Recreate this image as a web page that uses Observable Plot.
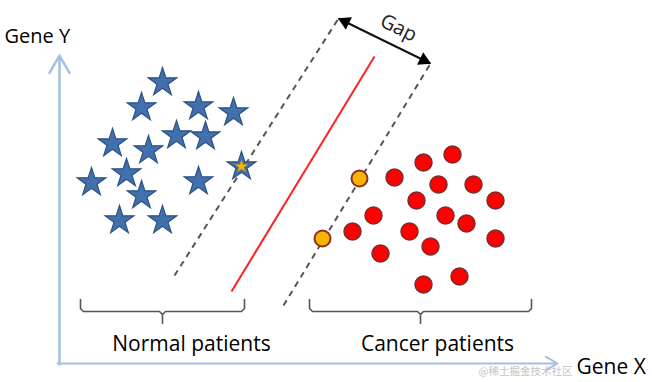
<!DOCTYPE html>
<html><head><meta charset="utf-8">
<script src="https://cdn.jsdelivr.net/npm/d3@7"></script>
<script src="https://cdn.jsdelivr.net/npm/@observablehq/plot@0.6"></script>
<style>html,body{margin:0;padding:0;background:#fff;overflow:hidden}</style>
</head><body><div id="chart"></div>
<script>
// Schematic coordinates (Gene X to the right, Gene Y measured downward on the canvas)
const normalX = [162,141,198,233,112,176,205,148,241, 91,126,198,141,119,162];
const normalY = [ 82,107,106,112,143,135,136,150,166,182,173,181,195,220,220];
const supportNormal = [{x:241, y:166}];

const cancerX = [394,423,452,438,473,416,495,373,352,409,445,466,495,430,380,459,423];
const cancerY = [177,162,154,184,184,200,200,215,231,231,215,223,238,246,253,276,284];
const supportCancerX = [359,322];
const supportCancerY = [178,238];

const hyperplane = {x1:231, y1:291, x2:374, y2:56};
const marginLines = [
  {x1:174, y1:275, x2:338, y2:18},
  {x1:283, y1:305, x2:430, y2:63}
];
const gapEnds = {x1:338, y1:18, x2:430, y2:63};
const axisY = {x1:59, y1:364, x2:59, y2:55};
const axisX = {x1:57, y1:363, x2:557, y2:363};

const groupLabels = ["Normal patients", "Cancer patients"];
const braceStart = [80, 309];
const braceEnd = [244, 531];
const braceTop = 299, braceLine = 311, braceTip = 323;
const labelY = 344;

const normal = normalX.map((x,i)=>({x, y:normalY[i]}));
const cancer = cancerX.map((x,i)=>({x, y:cancerY[i]}));
const supportCancer = supportCancerX.map((x,i)=>({x, y:supportCancerY[i]}));

// brace outlines built from the brace arrays
const braces = [];
groupLabels.forEach((g,i)=>{
  const a = braceStart[i], b = braceEnd[i], m = (a+b)/2;
  [[a,braceTop],[a,braceLine-3],[a+3,braceLine],[m-3,braceLine],[m,braceLine+3],[m,braceTip],
   [m,braceLine+3],[m+3,braceLine],[b-3,braceLine],[b,braceLine-3],[b,braceTop]]
   .forEach(([x,y])=>braces.push({g,x,y}));
});
const labels = groupLabels.map((g,i)=>({g, x:(braceStart[i]+braceEnd[i])/2 + (i===0?29:17), y:labelY}));

// gap arrow heads (filled triangles)
const dx = gapEnds.x2-gapEnds.x1, dy = gapEnds.y2-gapEnds.y1, len = Math.hypot(dx,dy);
const ux = dx/len, uy = dy/len, back = 7.5;
const heads = [
  {x: gapEnds.x1 + ux*back, y: gapEnds.y1 + uy*back, rot: Math.atan2(-ux, uy)*180/Math.PI},
  {x: gapEnds.x2 - ux*back, y: gapEnds.y2 - uy*back, rot: Math.atan2(ux, -uy)*180/Math.PI}
];
const gapAngle = Math.atan2(dy, dx)*180/Math.PI;
const gapLabel = [{x:(gapEnds.x1+gapEnds.x2)/2 + 14, y:(gapEnds.y1+gapEnds.y2)/2 - 13, t:"Gap"}];

const font = "'Open Sans', sans-serif";

const chart = Plot.plot({
  width: 652, height: 382,
  margin: 0,
  style: {fontFamily: font, background: "#fff"},
  x: {domain:[0,652], range:[0,652], axis:null},
  y: {domain:[0,382], range:[0,382], axis:null},
  marks: [
    // axes
    Plot.arrow([axisY], {x1:"x1", y1:"y1", x2:"x2", y2:"y2", stroke:"#a5bfe3", strokeWidth:2.5, headLength:12}),
    Plot.arrow([axisX], {x1:"x1", y1:"y1", x2:"x2", y2:"y2", stroke:"#a5bfe3", strokeWidth:2, headLength:10}),
    // margin lines
    Plot.link(marginLines, {x1:"x1", y1:"y1", x2:"x2", y2:"y2", stroke:"#555", strokeWidth:2, strokeDasharray:"6,5"}),
    // hyperplane
    Plot.link([hyperplane], {x1:"x1", y1:"y1", x2:"x2", y2:"y2", stroke:"#f22", strokeWidth:2}),
    // gap arrow
    Plot.link([gapEnds], {x1:"x1", y1:"y1", x2:"x2", y2:"y2", stroke:"#111", strokeWidth:2}),
    Plot.dot(heads, {x:"x", y:"y", symbol:"triangle", r:5.2, fill:"#000", rotate:"rot"}),
    Plot.text(gapLabel, {x:"x", y:"y", text:"t", rotate:gapAngle, fontSize:20, fill:"#222"}),
    // normal patients
    Plot.dot(normal, {x:"x", y:"y", symbol:"star", r:9, fill:"#4170ac", stroke:"#2c5282", strokeWidth:1.2}),
    Plot.dot(supportNormal, {x:"x", y:"y", symbol:"star", r:4, fill:"#f5b800", stroke:"#c48a00", strokeWidth:0.5}),
    // cancer patients
    Plot.dot(cancer, {x:"x", y:"y", r:8.5, fill:"#ff0000", stroke:"#7d2b2b", strokeWidth:1.5}),
    Plot.dot(supportCancer, {x:"x", y:"y", r:8, fill:"#f5b400", stroke:"#8b2f23", strokeWidth:2}),
    // braces
    Plot.line(braces, {x:"x", y:"y", z:"g", stroke:"#555", strokeWidth:1.6}),
    Plot.text(labels, {x:"x", y:"y", text:"g", fontSize:21, fill:"#000"}),
    // axis titles
    Plot.text(["Gene Y"], {x:[4], y:[36], text:d=>d, textAnchor:"start", fontSize:20, fill:"#000"}),
    Plot.text(["@稀土掘金技术社区"], {x:[572], y:[371], text:d=>d, textAnchor:"end", fontSize:10.5, fill:"#c4c4c4", fontFamily:"'Noto Sans CJK SC', sans-serif"}),
    Plot.text(["Gene X"], {x:[576], y:[367], text:d=>d, textAnchor:"start", fontSize:21, fill:"#000"})
  ]
});
document.getElementById("chart").appendChild(chart);
</script>
</body></html>
